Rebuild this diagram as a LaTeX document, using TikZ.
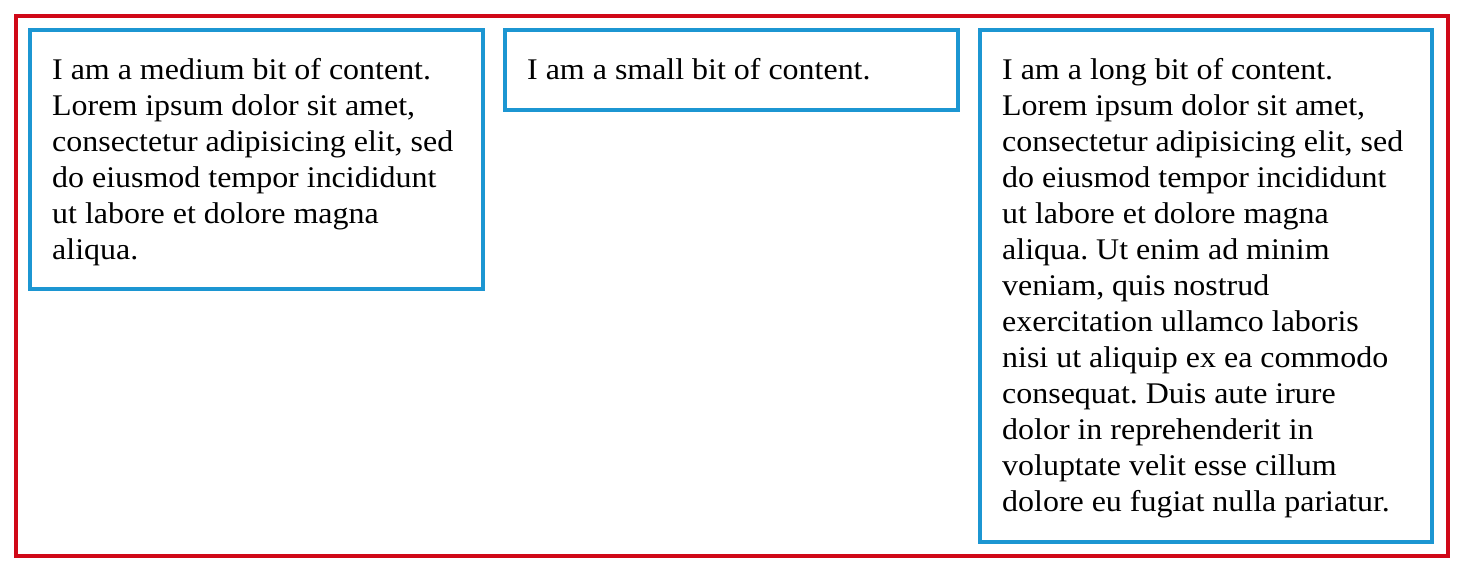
\documentclass[tikz,border=0pt]{standalone}
\usepackage{fontspec}
\setmainfont{Liberation Serif}[FakeStretch=1.065]
\definecolor{outerred}{RGB}{208,8,24}
\definecolor{boxblue}{RGB}{28,150,210}
\tikzset{
  outerframe/.style={draw=outerred, line width=4pt, inner sep=0pt, outer sep=0pt, anchor=north west},
  bluebox/.style={draw=boxblue, line width=4pt, inner sep=0pt, outer sep=0pt, anchor=north west},
  txt/.style={inner sep=0pt, anchor=base west, font=\fontsize{30}{36}\selectfont, text=black}
}
\frenchspacing
\begin{document}
\begin{tikzpicture}[x=1pt,y=-1pt]
\useasboundingbox (0,0) rectangle (1465,569);
\node[outerframe, minimum width=1432pt, minimum height=540pt] (outer) at (16,16) {};
\node[bluebox, minimum width=453pt, minimum height=259pt] (b1) at (30,30) {};
\node[bluebox, minimum width=452.5pt, minimum height=80pt] (b2) at (505,30) {};
\node[bluebox, minimum width=452pt, minimum height=512pt] (b3) at (980,30) {};
\node[txt] (t1) at (52,80) {\parbox[t]{440pt}{\raggedright\frenchspacing I am a medium bit of content.\\
Lorem ipsum dolor sit amet,\\
consectetur adipisicing elit, sed\\
do eiusmod tempor incididunt\\
ut labore et dolore magna\\
aliqua.}};
\node[txt] (t2) at (527,80) {\parbox[t]{440pt}{\raggedright\frenchspacing I am a small bit of content.}};
\node[txt] (t3) at (1002,80) {\parbox[t]{440pt}{\raggedright\frenchspacing I am a long bit of content.\\
Lorem ipsum dolor sit amet,\\
consectetur adipisicing elit, sed\\
do eiusmod tempor incididunt\\
ut labore et dolore magna\\
aliqua. Ut enim ad minim\\
veniam, quis nostrud\\
exercitation ullamco laboris\\
nisi ut aliquip ex ea commodo\\
consequat. Duis aute irure\\
dolor in reprehenderit in\\
voluptate velit esse cillum\\
dolore eu fugiat nulla pariatur.}};
\end{tikzpicture}
\end{document}
